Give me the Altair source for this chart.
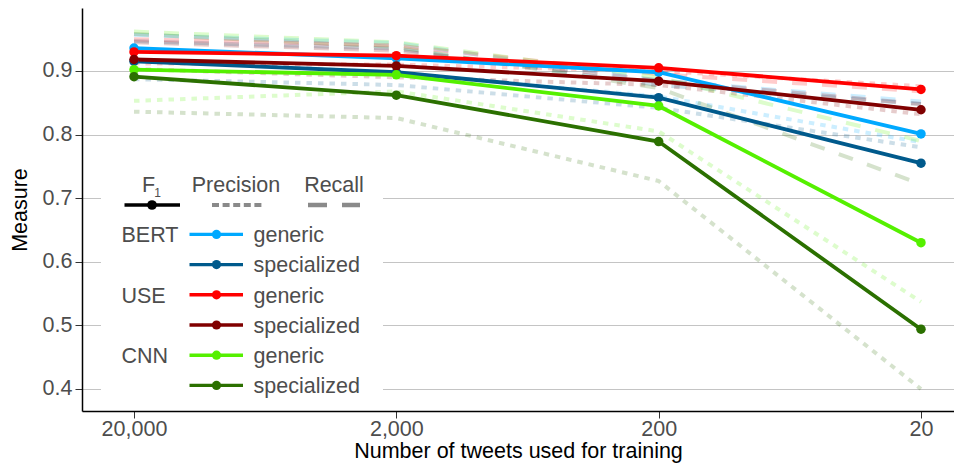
import altair as alt
import pandas as pd

# ---------------- data ----------------
tweets = [20000, 2000, 200, 20]
series_names = ["BERT generic", "BERT specialized", "USE generic",
                "USE specialized", "CNN generic", "CNN specialized"]
models = ["BERT", "BERT", "USE", "USE", "CNN", "CNN"]
variants = ["generic", "specialized", "generic", "specialized", "generic", "specialized"]
colors = ["#00a9ff", "#005a8c", "#ff0000", "#800000", "#55f000", "#2b7000"]

f1_bert_generic = [0.936, 0.920, 0.898, 0.801]
f1_bert_specialized = [0.915, 0.898, 0.858, 0.755]
f1_use_generic = [0.930, 0.924, 0.905, 0.871]
f1_use_specialized = [0.918, 0.908, 0.884, 0.839]
f1_cnn_generic = [0.902, 0.894, 0.845, 0.630]
f1_cnn_specialized = [0.891, 0.862, 0.789, 0.494]

precision_bert_generic = [0.918, 0.897, 0.860, 0.788]
precision_bert_specialized = [0.887, 0.878, 0.842, 0.780]
precision_use_generic = [0.912, 0.910, 0.900, 0.876]
precision_use_specialized = [0.903, 0.890, 0.878, 0.832]
precision_cnn_generic = [0.853, 0.868, 0.805, 0.537]
precision_cnn_specialized = [0.836, 0.826, 0.727, 0.400]

recall_bert_generic = [0.957, 0.944, 0.885, 0.852]
recall_bert_specialized = [0.947, 0.935, 0.878, 0.848]
recall_use_generic = [0.950, 0.940, 0.895, 0.868]
recall_use_specialized = [0.945, 0.932, 0.885, 0.848]
recall_cnn_generic = [0.962, 0.945, 0.890, 0.790]
recall_cnn_specialized = [0.958, 0.938, 0.873, 0.722]

measures = ["F1", "Precision", "Recall"]
header_labels = ["Precision", "Recall"]

table = {
    "F1": [f1_bert_generic, f1_bert_specialized, f1_use_generic,
           f1_use_specialized, f1_cnn_generic, f1_cnn_specialized],
    "Precision": [precision_bert_generic, precision_bert_specialized, precision_use_generic,
                  precision_use_specialized, precision_cnn_generic, precision_cnn_specialized],
    "Recall": [recall_bert_generic, recall_bert_specialized, recall_use_generic,
               recall_use_specialized, recall_cnn_generic, recall_cnn_specialized],
}

rows = []
for m in measures:
    for s, vals in zip(series_names, table[m]):
        for i, (n, v) in enumerate(zip(tweets, vals)):
            rows.append({"series": s, "measure": m, "tweets": n, "idx": i, "value": v})
df = pd.DataFrame(rows)

# legend table (pixel layout computed here, not stored in the data arrays)
row_y0, row_step = 226.4, 30.2
leg = pd.DataFrame({
    "series": series_names,
    "variant": variants,
    "model": [m if v == "generic" else "" for m, v in zip(models, variants)],
})
leg["ypx"] = [row_y0 + i * row_step for i in range(len(leg))]
leg["ybase"] = leg["ypx"] + 7.7

# ---------------- styling ----------------
FONT = "Liberation Sans, Arial, Helvetica, sans-serif"
FS = 21.5
TXT = "#4d4d4d"
W, H = 872, 403

cscale = alt.Scale(domain=series_names, range=colors)
color = alt.Color("series:N", scale=cscale, legend=None)

x = alt.X("tweets:Q",
          scale=alt.Scale(type="log", domain=[14.968, 31568], reverse=True, nice=False),
          axis=alt.Axis(values=tweets, format=",", grid=False, title="Number of tweets used for training",
                        labelPadding=0, titlePadding=1))
y = alt.Y("value:Q",
          scale=alt.Scale(domain=[0.3654, 0.999], nice=False, zero=False),
          axis=alt.Axis(values=[0.4, 0.5, 0.6, 0.7, 0.8, 0.9], format=".1f", grid=True,
                        title="Measure", labelPadding=3, titlePadding=11))

base = alt.Chart(df)

faded = base.transform_filter("datum.measure != 'F1'").mark_line(
    strokeWidth=4, strokeOpacity=0.2, strokeCap="butt", strokeJoin="round"
).encode(
    x=x, y=y, color=color,
    strokeDash=alt.StrokeDash("measure:N",
                              scale=alt.Scale(domain=["Precision", "Recall"], range=[[5.5, 6], [15, 15]]),
                              legend=None),
    order="idx:Q",
)

solid = base.transform_filter("datum.measure == 'F1'").mark_line(strokeWidth=3.8).encode(
    x=x, y=y, color=color, order="idx:Q"
)

pts = base.transform_filter("datum.measure == 'F1'").mark_circle(size=90, opacity=1).encode(
    x=x, y=y, color=color
)

# ---------------- legend (annotation) ----------------
one = pd.DataFrame({"k": [0]})
box = alt.Chart(one).mark_rect(fill="white").encode(
    x=alt.value(19), x2=alt.value(301), y=alt.value(152), y2=alt.value(390)
)

hdr_f = alt.Chart(one).mark_text(text="F", font=FONT, fontSize=FS, color=TXT, align="center",
                                 baseline="alphabetic").encode(x=alt.value(66.5), y=alt.value(184.4))
hdr_sub = alt.Chart(one).mark_text(text="1", font=FONT, fontSize=12, color=TXT, align="center",
                                   baseline="alphabetic").encode(x=alt.value(75.5), y=alt.value(188.5))
hdr_p = alt.Chart(one).mark_text(text=header_labels[0], font=FONT, fontSize=FS, color=TXT, align="center",
                                 baseline="alphabetic").encode(x=alt.value(154), y=alt.value(184.4))
hdr_r = alt.Chart(one).mark_text(text=header_labels[1], font=FONT, fontSize=FS, color=TXT, align="center",
                                 baseline="alphabetic").encode(x=alt.value(252), y=alt.value(184.4))

key_f_line = alt.Chart(one).mark_rule(color="black", strokeWidth=3.4).encode(
    x=alt.value(42.5), x2=alt.value(98), y=alt.value(197))
key_f_dot = alt.Chart(one).mark_circle(color="black", size=95, opacity=1).encode(
    x=alt.value(70), y=alt.value(197))
key_p = alt.Chart(one).mark_rule(color="#8a8a8a", strokeWidth=4.2, strokeDash=[7, 3.6], strokeCap="butt").encode(
    x=alt.value(130), x2=alt.value(180), y=alt.value(197))
key_r = alt.Chart(one).mark_rule(color="#8a8a8a", strokeWidth=4.6, strokeDash=[19, 15], strokeCap="butt").encode(
    x=alt.value(226), x2=alt.value(278), y=alt.value(197))

lbase = alt.Chart(leg)
leg_lines = lbase.mark_rule(strokeWidth=3.4).encode(
    x=alt.value(107.5), x2=alt.value(161), y=alt.Y("ypx:Q", scale=None), color=color)
leg_dots = lbase.mark_circle(size=85, opacity=1).encode(
    x=alt.value(134.5), y=alt.Y("ypx:Q", scale=None), color=color)
leg_var = lbase.mark_text(font=FONT, fontSize=FS, color=TXT, align="left", baseline="alphabetic").encode(
    x=alt.value(171.5), y=alt.Y("ybase:Q", scale=None), text="variant:N")
leg_mod = lbase.mark_text(font=FONT, fontSize=FS, color=TXT, align="left", baseline="alphabetic").encode(
    x=alt.value(39.5), y=alt.Y("ybase:Q", scale=None), text="model:N")

chart = alt.layer(
    faded, solid, pts,
    box, hdr_f, hdr_sub, hdr_p, hdr_r, key_f_line, key_f_dot, key_p, key_r,
    leg_lines, leg_dots, leg_var, leg_mod,
).properties(
    width=W, height=H,
    background="white",
    autosize=alt.AutoSizeParams(type="none"),
    padding={"left": 74, "top": 0, "right": 0, "bottom": 54},
).configure_axis(
    labelFont=FONT, titleFont=FONT, labelFontSize=FS, titleFontSize=FS,
    labelColor=TXT, titleColor="black", titleFontWeight="normal",
    domainColor="black", domainWidth=1.5, tickColor="#333333", tickWidth=1, tickSize=7,
    gridColor="#c4c4c4", gridWidth=1.2,
).configure_view(stroke=None)

chart.save("out.html", embed_options={"renderer": "svg", "actions": False})
